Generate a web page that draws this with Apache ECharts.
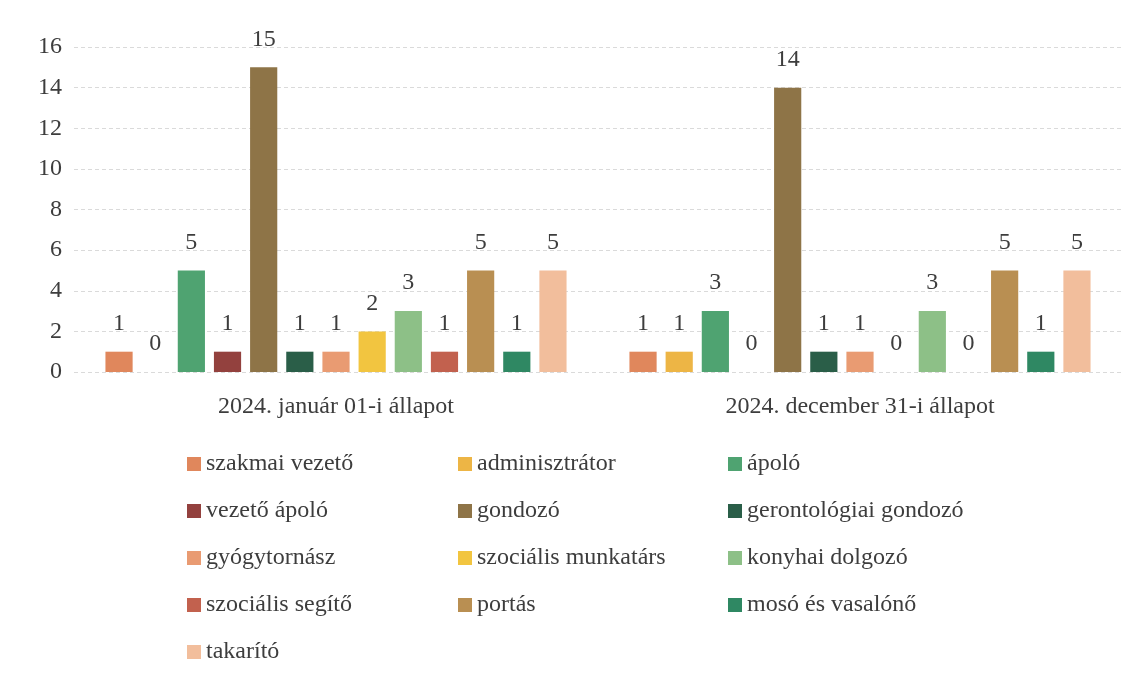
<!DOCTYPE html>
<html>
<head>
    <meta charset="utf-8">
    <title>Létszám</title>
    <script src="https://cdn.jsdelivr.net/npm/echarts@6/dist/echarts.min.js"></script>
    <style>
        html, body { margin: 0; padding: 0; background: #fff; }
    </style>
</head>
<body>
    <div id="main" style="width: 1144px;height:680px;"></div>
    <script>
        var categories = ['2024. január 01-i állapot', '2024. december 31-i állapot'];

        var roles = ['szakmai vezető', 'adminisztrátor', 'ápoló', 'vezető ápoló', 'gondozó',
            'gerontológiai gondozó', 'gyógytornász', 'szociális munkatárs', 'konyhai dolgozó',
            'szociális segítő', 'portás', 'mosó és vasalónő', 'takarító'];

        var janValues = [1, 0, 5, 1, 15, 1, 1, 2, 3, 1, 5, 1, 5];
        var decValues = [1, 1, 3, 0, 14, 1, 1, 0, 3, 0, 5, 1, 5];

        var colors = ['#E0875C', '#EDB545', '#4FA371', '#93413E', '#8E7447',
            '#2A5E48', '#E99B72', '#F2C540', '#8DC087',
            '#C2614E', '#B98F52', '#2F8863', '#F2BE9C'];

        // legend columns (Excel style row-major layout)
        var legendCols = [
            ['szakmai vezető', 'vezető ápoló', 'gyógytornász', 'szociális segítő', 'takarító'],
            ['adminisztrátor', 'gondozó', 'szociális munkatárs', 'portás'],
            ['ápoló', 'gerontológiai gondozó', 'konyhai dolgozó', 'mosó és vasalónő']
        ];
        var legendLeft = [187, 458, 728];

        var font = '"Liberation Serif", "DejaVu Serif", serif';

        var myChart = echarts.init(document.getElementById('main'));

        var series = roles.map(function (name, i) {
            return {
                name: name,
                type: 'bar',
                barGap: '33%',
                barCategoryGap: '12%',
                itemStyle: { color: colors[i] },
                label: {
                    show: true,
                    position: 'top',
                    distance: 16,
                    color: '#3d3d3d',
                    fontFamily: font,
                    fontSize: 24
                },
                data: [janValues[i], decValues[i]]
            };
        });

        var legends = legendCols.map(function (col, k) {
            return {
                orient: 'vertical',
                left: legendLeft[k],
                top: 452,
                height: 228,
                padding: 0,
                itemWidth: 14,
                itemHeight: 14,
                itemGap: 23,
                icon: 'rect',
                textStyle: {
                    color: '#3d3d3d',
                    fontFamily: font,
                    fontSize: 24,
                    lineHeight: 24
                },
                data: col
            };
        });

        option = {
            backgroundColor: '#ffffff',
            animation: false,
            color: colors,
            legend: legends,
            grid: {
                left: 74,
                width: 1048,
                top: 47,
                bottom: 308
            },
            xAxis: {
                type: 'category',
                data: categories,
                axisLine: { show: false },
                axisTick: { show: false },
                axisLabel: {
                    color: '#3d3d3d',
                    fontFamily: font,
                    fontSize: 24,
                    margin: 23
                }
            },
            yAxis: {
                type: 'value',
                min: 0,
                max: 16,
                interval: 2,
                axisLine: { show: false },
                axisTick: { show: false },
                axisLabel: {
                    color: '#3d3d3d',
                    fontFamily: font,
                    fontSize: 24,
                    margin: 12
                },
                splitLine: {
                    lineStyle: { color: '#dadada', type: [4, 3] }
                }
            },
            series: series
        };
        myChart.setOption(option);
    </script>
</body>
</html>
